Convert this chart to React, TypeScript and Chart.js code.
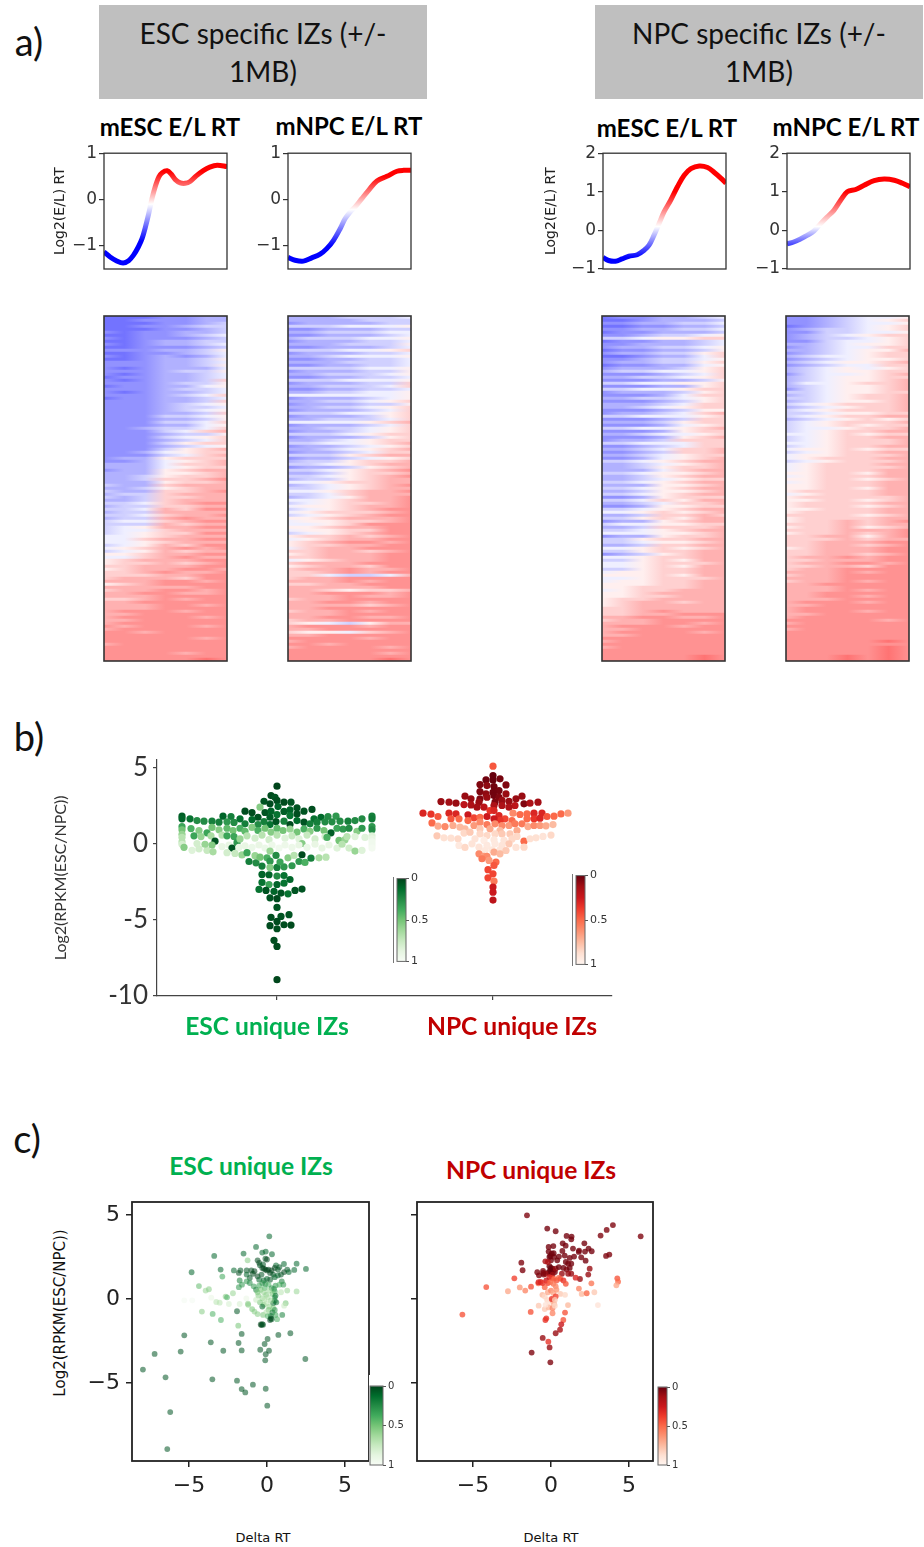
import React, { useEffect, useRef } from "react";
import { Chart, registerables } from "chart.js";

const framePlugin = {
  id: "frame",
  afterDatasetsDraw(chart: any, _a: any, o: any) {
    if (!o || !o.width) return;
    const { ctx, chartArea: a } = chart;
    ctx.save();
    ctx.strokeStyle = o.color || "#333";
    ctx.lineWidth = o.width;
    ctx.strokeRect(a.left, a.top, a.right - a.left, a.bottom - a.top);
    ctx.restore();
  },
};
Chart.register(...registerables, framePlugin);

// ---- a) mean replication-timing profiles ----
const rtEscInEscX = [0, 5, 10, 15.5, 20, 24, 28, 31, 33.7, 36.4, 39, 42, 44.6, 47.3, 51.4, 54.6, 58, 62, 66, 70, 75, 81, 86, 92, 100];
const rtEscInEscY = [-1.13, -1.24, -1.32, -1.37, -1.32, -1.2, -1.02, -0.84, -0.59, -0.3, 0.02, 0.31, 0.49, 0.58, 0.62, 0.55, 0.43, 0.36, 0.35, 0.39, 0.51, 0.63, 0.7, 0.74, 0.71];
const rtEscInNpcX = [0, 5.7, 12.5, 19.3, 26.1, 31.5, 37, 42.4, 46.5, 50.5, 54.6, 60, 65.5, 72.3, 80.4, 88.6, 94, 100];
const rtEscInNpcY = [-1.25, -1.31, -1.33, -1.26, -1.18, -1.06, -0.88, -0.63, -0.41, -0.27, -0.16, 0.02, 0.2, 0.4, 0.5, 0.61, 0.63, 0.63];
const rtNpcInEscX = [0, 4.6, 10, 15.5, 21, 27.8, 33.2, 37.3, 41.4, 45.5, 49.6, 55, 60.5, 66, 71.5, 78.3, 85, 90.5, 96, 100];
const rtNpcInEscY = [-0.7, -0.78, -0.8, -0.74, -0.67, -0.63, -0.52, -0.39, -0.13, 0.17, 0.48, 0.78, 1.13, 1.43, 1.6, 1.67, 1.63, 1.5, 1.35, 1.22];
const rtNpcInNpcX = [0, 5.4, 10.9, 16.3, 21.8, 27.2, 32.7, 38.1, 43.6, 49, 55.9, 62.7, 70.8, 79, 87.2, 94, 100];
const rtNpcInNpcY = [-0.35, -0.3, -0.22, -0.13, -0.02, 0.17, 0.35, 0.52, 0.78, 1.0, 1.06, 1.17, 1.29, 1.33, 1.3, 1.22, 1.13];
const rtTicksEsc = [-1, 0, 1];
const rtTicksNpc = [-1, 0, 1, 2];

// ---- a) heat maps: each row one text line, each digit a level 0 (deep blue) .. 9 (deep red) ----
const heatEscInEsc = [
"0001122","0011122","0001123","0011233","0001123","1011223","0011234","1011123","0012233","1012234","0011123","1112235","0011234","1012124","0012235",
"1112234","1112235","1012224","1112335","1012234","0112234","1012236","1112335","0112245","1112334","1012234","1112346","0112234","1112236","1112345",
"1112334","1112345","1112236","1113345","1112235","1113346","1112245","1123346","1113467","1112335","1113456","1112346","1113566","1112345","1113567",
"1124566","1113467","1225666","1124567","2224667","2224566","1225677","2225567","2235667","2236678","2225667","3226777","2235677","3226678","2336777",
"3236677","2236777","3346788","2336677","3347688","2337777","3346778","2337877","3446788","3337677","3457788","3446777","3456688","4456777","4467788",
"4456777","3457688","4567878","3457677","5567788","4467877","5677788","5667678","6677788","5677887","6678778","6667788","6777688","7778878","5678888",
"7777788","6778878","7788778","7778888","6678788","7788888","7778878","7778888","7888788","7788888","7888878","7788888","7888888","8788878","7888888",
"8878888","8888888","8888878","8888888","7888888","8888888","8888888","8888788","8888888","8888898",
];
const heatEscInNpc = [
"2223334","2222333","1222233","3334445","1122233","2233344","1122234","2333445","1222334","2223335","1122234","3334456","1222334","2234445","1122334",
"2223334","1122334","3333445","1222335","2233345","1122334","3334445","1222336","2233346","1122334","2233445","4444445","1222345","2233456","1222335",
"2233456","1222346","3334456","1222356","2233346","4444567","1222346","2233456","1223456","3334566","1222356","2234566","3344567","1223456","2234567",
"1223466","3335677","1223456","2335667","3345677","1223567","3345678","2235667","3345678","2335677","4456677","2345678","3345677","4456778","3346777",
"2345778","4456778","3456678","4556778","3456788","4566678","3456788","5567778","4556678","4456888","5567788","4556688","3456788","5667678","4567788",
"5678878","5667788","4677888","6677678","5677788","6677788","4567788","6777888","5677688","6778778","6678788","6643347","6778888","7778788","6677888",
"7777788","7765667","7788878","7778778","6778888","7788788","7777678","7788888","6778788","7778888","7788778","6778888","6543577","7888788","7788888",
"6554678","7788888","8888788","7888888","8878888","7888878","8888888","8888878","8888888","8888898",
];
const heatNpcInEsc = [
"0112234","0012223","1122334","0011223","1122334","0112223","1123345","3345566","0112234","1122234","1223345","0112235","1223356","0012246","1123345",
"1223356","0112245","1222356","2334456","1112346","2233456","1112235","3344556","1112256","3344566","1222356","1112466","2233456","1112356","2223466",
"2234566","1112355","1223467","3344456","1112366","2223566","1112456","3344567","1112566","2234456","1112567","1223666","3344466","1123466","2234667",
"1123667","2234566","1124567","3345677","2234567","2235667","2224677","3345567","2235677","2234566","3345677","2225567","3345677","2235567","3345677",
"1125666","3346577","2234667","1125566","3345677","4456567","2236676","3356577","1225677","3445566","2236667","3345677","4445567","1225667","3356677",
"3345567","2236677","4456567","3356677","1235677","4456677","3356577","4456667","4456577","3356677","4556677","5556577","4456667","4556677","5556677",
"5566677","4566777","5567777","5566777","5667777","5677677","5677777","6677777","6678777","6677888","7788778","6778888","7778878","7888788","7788888",
"7888878","7788888","8888888","7888888","8888888","7888888","8888888","8888888","8888898","8888898",
];
const heatNpcInNpc = [
"1123445","1123456","1123445","0123456","1233456","1133445","1234566","1233456","1134456","2234556","1234466","2234557","1234566","2344566","1234556",
"2345567","1234466","2345456","2345566","1344567","2345566","2345567","2445667","2345567","1345567","3345566","2345667","3345667","2345567","3456667",
"2345667","3456667","3345566","3456677","2345656","3456667","3456566","3445667","3456677","4456566","3456677","3456667","4456667","3456677","4556566",
"3456677","4556667","4566677","3456667","4566677","4566667","4566677","5566577","4566677","5566567","4566677","5566677","5566577","5666677","4566677",
"5666667","5566567","5666677","5666567","5566677","5666677","6666567","5666677","5667678","6667677","5667567","6667778","5667678","6677578","6667677",
"6677788","6677678","5677788","6677788","6677678","6778788","6677788","6778878","6677688","6778888","7778788","6778888","7778888","6778788","7788888",
"7778888","7778788","7788888","7788788","7778888","7888788","7788888","7888888","7888788","7788888","7888888","8888878","7888888","8888888","7888888",
"8888888","8888888","8888888","8888898","8888888","8888898","8888898","8888898","8889898","8889898",
];

// ---- b) swarm points: [offset from category centre, log2 ratio, colour value] ----
const swarmEsc = [
[0,3.76,0],[-6,3.14,.02],[-2,3.03,.05],[-13,2.77,.05],[-7,2.6,.02],[0,2.82,.03],[7,2.71,.02],[14,2.71,.05],[1,2.42,.1],[20,2.34,.05],[-17,2.38,.55],[-32,2.12,.03],[-25,2.03,.03],[-12,2.03,.05],[-6,2.12,.1],[7,2.1,.08],[13,2.2,.1],[27,2.12,.05],[35,2.23,.03],[20,1.94,.03],[0,1.9,.15],[13,1.83,.15],[-7,1.72,.08],[-19,1.72,.05],
[-95,1.79,.08],[-95,1.62,.1],[-87,1.62,.15],[-80,1.5,.25],[-73,1.46,.25],[-65,1.46,.2],[-58,1.4,.2],[-54,1.79,.1],[-46,1.77,.2],[-50,1.42,.3],[-43,1.38,.25],[-37,1.62,.15],[-32,1.29,.2],[-25,1.57,.12],[-13,1.44,.2],[-19,1.24,.25],[-7,1.24,.15],[-1,1.44,.05],[7,1.46,.2],[13,1.24,.02],[20,1.5,.12],[27,1.4,.05],[37,1.62,.15],[33,1.29,.2],[44,1.72,.12],[51,1.77,.25],[48,1.42,.25],[55,1.42,.25],[59,1.79,.3],[63,1.46,.25],[71,1.46,.2],[78,1.5,.25],[85,1.62,.25],[95,1.79,.2],[95,1.62,.18],[40,1.4,.2],
[-95,1.1,.35],[-95,.9,.5],[-86,.98,.4],[-78,.85,.55],[-70,.7,.35],[-65,1.05,.5],[-58,.9,.55],[-50,1,.45],[-44,.85,.5],[-37,1,.4],[-32,.8,.45],[-25,1.05,.55],[-19,.85,.4],[-12,1,.5],[-6,.75,.55],[0,1,.45],[6,.85,.5],[13,.95,.6],[20,.75,.5],[27,.95,.4],[33,.8,.55],[40,1,.3],[47,.85,.5],[54,.7,.08],[60,1,.35],[66,.95,.3],[72,1,.25],[80,.8,.55],[85,1,.3],[95,1.1,.3],[95,.9,.25],
[-95,.6,.6],[-95,.4,.7],[-83,.5,.35],[-76,.45,.6],[-66,.5,.65],[-62,.15,.05],[-55,.55,.7],[-50,.5,.35],[-43,.45,.35],[-40,.05,.3],[-37,.3,.6],[-30,.5,.7],[-22,.35,.8],[-15,.55,.7],[-8,.25,.8],[0,.55,.7],[8,.35,.85],[15,.5,.75],[22,.3,.85],[25,0,.55],[30,.55,.75],[38,.3,.8],[48,.45,.8],[50,.4,.4],[62,.2,.5],[68,.25,.6],[70,.45,.7],[78,.45,.85],[88,.4,.85],[95,.5,.85],[95,.3,.9],
[-95,.1,.7],[-95,-.05,.8],[-93,-.25,.55],[-85,-.45,.85],[-78,-.35,.8],[-70,-.45,.75],[-64,-.55,.65],[-80,0,.8],[-72,-.05,.6],[-65,-.1,.55],[-55,-.2,.9],[-48,-.1,.9],[-45,-.3,.05],[-38,-.25,.9],[-32,-.15,.9],[-25,-.25,.92],[-18,-.1,.9],[-12,-.3,.92],[-5,-.1,.93],[2,-.3,.95],[8,-.1,.93],[15,-.25,.93],[22,-.1,.9],[30,-.25,.92],[38,-.05,.9],[45,-.3,.88],[52,-.1,.9],[60,-.3,.85],[65,-.05,.7],[72,-.3,.8],[78,-.5,.6],[85,-.45,.85],[95,.1,.95],[95,-.1,.95],[95,-.3,.97],
[-50,-.6,.8],[-42,-.65,.75],[-35,-.75,.6],[-30,-.6,.35],[-22,-.8,.6],[-28,-1.18,.2],[-21,-1.27,.25],[-17,-.9,.5],[-10,-.94,.4],[-7,-.5,.6],[-1,-.78,.25],[-7,-1.16,.3],[-15,-1.48,.2],[-7,-1.57,.55],[0,-1.57,.2],[7,-1.53,.3],[15,-1.46,.3],[11,-.94,.55],[3,-1.22,.35],[17,-.78,.7],[25,-.74,.02],[22,-1.18,.3],[28,-1.24,.4],[34,-.96,.2],[42,-.94,.65],[49,-.9,.7],
[-15,-2.03,.1],[-8,-2.05,.1],[0,-2.14,.25],[7,-2.1,.15],[13,-2.36,.1],[-15,-2.55,.15],[-8,-2.69,.35],[0,-2.69,.1],[7,-2.6,.15],[-18,-3.01,.15],[-11,-3.08,.05],[-3,-3.14,.1],[4,-3.25,.05],[11,-3.3,.15],[18,-3.08,.05],[25,-2.99,.05],[-7,-3.56,.05],[0,-3.62,.02],[0,-4.19,.05],[-6,-4.85,.03],[4,-4.78,.05],[12,-4.67,.05],[0,-5.11,.02],[-7,-5.39,.02],[0,-5.59,.03],[7,-5.33,.03],[14,-5.35,.02],[-3,-6.35,.03],[0,-6.75,.02],[0,-8.93,.01],
];
const swarmNpc = [
[0,5.07,.45],[0,4.45,0],[0,4.17,0],[-7,4.17,.02],[7,4.24,.03],[-13,3.86,.05],[-6,3.8,.08],[13,3.84,.05],[1,3.73,.02],[6,3.47,.03],[-13,3.41,.05],[0,3.36,.02],[-7,3.25,.08],[13,3.25,.1],[1,3.14,.02],[-28,3.1,.1],[-22,2.93,.1],[-13,2.93,.05],[-6,3.03,.1],[6,3.03,.05],[29,3.1,.1],[23,2.93,.1],[-52,2.75,.1],[-44,2.71,.12],[-37,2.64,.1],[-29,2.55,.2],[-22,2.53,.15],[-14,2.71,.1],[2,2.71,.05],[9,2.82,.1],[16,2.77,.1],[31,2.6,.05],[37,2.64,.15],[45,2.71,.12],[-16,2.38,.12],[-9,2.38,.2],[1,2.49,.15],[9,2.49,.15],[22,2.49,.2],[16,2.38,.15],[-3,2.16,.35],
[-70,1.99,.3],[-62,1.92,.35],[-55,1.77,.45],[-44,1.99,.3],[-37,1.94,.3],[-25,1.88,.25],[-19,1.68,.4],[-6,1.77,.25],[1,2.16,.3],[6,1.83,.3],[20,1.99,.6],[27,1.9,.5],[34,1.94,.5],[41,1.99,.3],[49,2,.3],[54,1.77,.45],[61,1.79,.5],[68,1.94,.5],[75,1.99,.65],[-42,1.62,.45],[-34,1.62,.5],[-13,1.72,.5],[12,1.62,.4],[7,1.51,.35],[34,1.62,.5],[41,1.62,.35],[47,1.66,.3],[19,1.5,.5],[1,1.62,.25],
[-61,1.35,.5],[-55,1.14,.7],[-48,1.11,.6],[-40,1.18,.7],[-33,1.07,.75],[-25,1.5,.5],[-19,1.18,.65],[-13,1.4,.6],[-6,1.24,.55],[2,1.29,.6],[9,1.18,.6],[16,1.18,.65],[22,1.29,.55],[29,1.29,.55],[35,1.11,.7],[41,1.18,.6],[47,1.18,.65],[53,1.16,.7],[60,1.24,.75],[-28,.96,.75],[-13,.96,.8],[-3,.96,.7],[7,.85,.75],[24,.85,.7],
[-56,.5,.8],[-49,.37,.88],[-42,.35,.88],[-35,.31,.85],[-29,.68,.85],[-23,.74,.8],[-13,.63,.85],[-6,.52,.85],[2,.63,.85],[9,.63,.8],[17,.63,.8],[24,.46,.85],[31,.15,.5],[37,.31,.88],[43,.37,.88],[50,.46,.9],[58,.55,.85],[-18,.31,.9],[-9,.2,.95],[1,.24,.92],[11,.2,.9],[19,.3,.85],
[-34,-.13,.93],[-28,-.26,.85],[-21,-.02,.9],[-14,-.24,.9],[-6,-.13,.93],[2,-.02,.93],[9,-.13,.9],[16,-.02,.8],[23,-.26,.9],[31,-.24,.85],[-1,-.41,.92],[-8,-.46,.92],[7,-.41,.9],[13,-.46,.8],
[-14,-.68,.6],[-9,-.85,.65],[-6,-.85,.6],[1,-.57,.7],[7,-.68,.75],[-11,-1,.55],[-4,-1.11,.65],[3,-1.22,.5],[1,-1.44,.45],[-5,-1.72,.4],[0,-1.99,.4],[-5,-2.25,.4],[1,-2.47,.55],[0,-2.86,.25],[0,-3.19,.25],[0,-3.71,.2],
];

// ---- c) scatter points: [delta RT, log2 ratio, colour value] ----
const scatterEsc = [
[.15,3.73,.1],[-.7,3.1,.1],[-1.5,2.7,.1],[-.3,2.76,.1],[-.08,2.82,.1],[.32,2.66,.1],[-3.38,2.56,.1],[-4.83,1.59,.1],[-2.97,1.75,.1],[-2.12,1.7,.1],[1.9,2.1,.1],[2.5,1.79,.1],[1.75,1.73,.1],[1.09,2.08,.1],[.58,2,.1],[-1.24,2.3,.55],
[-5.3,-2.16,.05],[-7.2,-3.27,.05],[-5.53,-3.13,.05],[-7.95,-4.2,.05],[-6.5,-4.66,.05],[-6.2,-6.73,.05],[-6.39,-8.93,.05],[-3.6,-2.58,.05],[-2.8,-3.08,.05],[-1.62,-2.08,.05],[-1.82,-2.62,.05],[-1.62,-3.06,.05],[.73,-2.14,.05],[1.5,-2.04,.05],[.04,-2.38,.05],[-.15,-2.68,.05],[-.43,-3.02,.05],[.13,-3.08,.05],[-.08,-3.29,.05],[-.11,-3.65,.05],[2.46,-3.57,.05],[-3.5,-4.78,.05],[-1.92,-4.86,.05],[-1.62,-5.36,.05],[-1.39,-5.56,.05],[-.9,-5.1,.05],[-.08,-5.34,.05],[.02,-6.35,.05],
[-1.84,-1.59,.5],[-1.92,-.73,.05],[-2.95,-1.25,.4],[-3.48,-.89,.4],[-4.17,-.75,.55],[-4.36,.77,.45],[-3.93,.5,.6],[-3.72,.58,.55],[-2.86,1.33,.35],[-5.3,-.08,.97],[-4.79,-.08,.97],[-3.57,.08,.9],[-3.25,-.18,.7],[-3.03,-.22,.7],[-2.65,.14,.55],[-2.56,.1,.4],[-2.18,.34,.6],[-2.44,-.3,.8],[-1.75,-.3,.8],[-1.22,-.28,.55],[-1.32,.04,.9],
[-.6,2.3,.02],[-.5,2.15,0],[-.45,2,.05],[-.25,2.05,.05],[-.1,2.4,.05],[0,2.35,0],[-.3,1.85,0],[-.2,1.8,0],[-.1,1.75,0],[0,1.7,0],[.1,1.75,0],[.2,1.55,0],[.3,1.7,0],[.4,1.45,.05],[.5,1.85,0],[.7,1.75,.05],[.8,1.9,.05],[1.1,1.6,0],[1.3,1.75,.05],[1.4,1.6,.1],[-.8,1.65,0],[-.9,1.5,.02],[-1.1,1.25,.05],[-1.3,1.7,.05],[-1.8,1.55,.02],[-1.7,1.7,.05],[-1.3,1.45,.1],[-1,1.7,.02],[-.6,1.35,0],[-.5,1.15,.1],[-.35,1.45,.05],[-.2,1.1,.1],[0,1.2,.1],[.2,1.15,.05],[.5,1.3,.1],[.7,1.4,.1],[.95,1.05,.2],[.9,1.45,.05],
[-1.75,1.1,.2],[-1.6,.85,.3],[-1.3,1.05,.3],[-1.1,.95,.25],[-.85,.75,.3],[-.7,.55,.2],[-.5,.8,.35],[-.3,.95,.3],[-.1,.9,.25],[.1,.85,.4],[.3,.65,.3],[.45,.6,.25],[.55,.8,.3],[.8,.85,.4],[1.05,.85,.3],[-1.8,.7,.3],[-.6,.4,.5],[-.15,.65,.4],[.5,.45,.35],
[-.4,.55,.5],[-.2,.4,.6],[-.05,.25,.55],[.15,.5,.6],[.35,.3,.5],[.5,.1,.3],[.55,.2,.15],[.5,-.1,.2],[.6,-.2,.15],[.4,-.25,.1],[1.3,.5,.6],[1.9,.45,.6],[.9,.4,.7],[-.55,.2,.55],[-.3,.05,.6],[-.15,-.05,.7],[.05,.1,.65],[.25,-.1,.6],[-.45,-.2,.5],[-.7,-.05,.75],[-.2,-.35,.5],[-.05,-.25,.7],[.15,-.45,.6],[.4,-.55,.5],[.5,-.65,.3],[-.3,-.45,.1],[1.2,-.25,.5],[1.1,-.4,.75],[.1,-.65,.5],[.35,-.8,.2],[-1.2,-.35,.55],[-.95,-.6,.5],[-.8,-.75,.55],[-.6,-.9,.55],[-.25,-.95,.5],[-.05,-.8,.7],[.25,-1,.15],[.05,-1.02,.4],[.55,-.95,.35],[.98,-.95,.2],[.65,-1.2,.4],[.25,-1.15,0],[.2,-1.25,0],[.3,-1.2,.05],
[-.4,-1.52,0],[-.35,-1.55,0],[-.3,-1.5,.02],[-.25,-1.53,.05],
];
const scatterNpc = [
[-1.54,4.98,.05],[-.24,4.19,.03],[.3,4.03,.03],[1,3.75,.03],[1.32,3.71,.03],[1.3,3.55,.03],[3.18,3.77,.05],[3.57,4.11,.05],[3.97,4.4,.05],[5.75,3.73,.05],[2.14,3.31,.03],[.75,3.31,.03],[.94,3.17,.03],[-.15,3.1,.03],[.15,3.15,.03],[1.41,3,.03],[1.8,2.88,.03],[1.78,2.8,.03],[2.18,2.82,.03],[2.41,3,.03],[2.61,2.84,.03],[3.53,2.56,.05],[3.74,2.64,.05],[1.94,2.48,.03],[2.22,2.28,.03],[.73,2.86,.03],[-.15,2.82,.03],[.17,2.72,.03],[.51,2.52,.03],[.88,2.58,.03],[1.2,2.44,.03],[1.48,2.52,.03],[-.04,2.56,.03],[-.36,2.24,.15],[-1.9,2.16,.05],[-1.82,1.71,.05],[-2.35,1.23,.4],[-.88,1.59,.05],[-.77,1.41,.05],[-.51,1.67,.05],[-.47,1.45,.05],[-.81,.93,.5],[-.66,1.01,.3],[-1.28,.73,.45],[-4.15,.71,.45],[-2.76,.46,.7],[-2,.69,.65],[-1.65,.5,.6],[-5.68,-.93,.45],[4.25,1.23,.45],[4.3,1.03,.5],[4.19,.81,.7],[2.48,1.8,.1],[2.39,1.45,.1],[1.86,1.19,.1],[1.58,1.27,.3],[2.59,.93,.55],[1.79,.62,.6],[1.97,.3,.75],[2.29,.34,.5],[2.78,.4,.8],[3.01,-.36,.9],[1.09,-.36,.75],[-.79,-.4,.8],[-1.3,-.77,.45],[.9,-.81,.45],[-.3,-1.15,.35],[-.36,-1.25,.35],[.79,-1.25,.45],[.66,-1.51,.25],[.58,-1.83,.15],[.3,-2.04,.1],[-.53,-2.32,.1],[-.17,-2.54,.35],[-.09,-2.88,.1],[-1.24,-3.19,.05],[-.04,-3.77,.05],
[-.1,1.95,0],[0,1.85,0],[.1,1.8,0],[.15,1.7,0],[-.05,1.7,0],[.05,1.55,.02],[-.15,1.6,0],[.25,1.6,.03],[-.1,1.5,.02],[.1,1.45,.1],[.3,1.8,.1],[.5,1.9,.02],[.8,1.85,.02],[1,1.75,.05],[1.2,1.85,.02],[1.1,2.1,.05],[1.3,2.1,.03],[.95,2.2,.02],[.2,2.5,.03],[.4,2.3,.02],[0,2.3,.03],[-.1,2.5,.01],[.05,2.7,.02],[-.2,2.2,.15],[1.1,1.5,.1],[1.3,1.5,.1],[.7,1.5,.1],[-.35,1.5,.1],[-.5,1.55,.05],
[-.1,1.3,.3],[.05,1.25,.35],[.2,1.2,.5],[.35,1.1,.45],[.5,1.25,.5],[-.3,1.1,.25],[-.2,.95,.4],[-.05,1,.5],[.15,.9,.55],[.3,.75,.6],[.6,1.2,.45],[.8,1.1,.35],[.95,.9,.45],[-.4,.7,.5],[-.55,.95,.35],[-.8,1,.3],
[-.55,.25,.75],[-.4,.15,.85],[-.2,.4,.7],[0,.5,.6],[.15,.35,.7],[.35,.55,.65],[.6,.3,.8],[.9,.25,.85],[-.25,-.05,.85],[-.1,-.25,.9],[.1,-.1,.75],[.2,-.3,.7],[.05,0,.35],[.3,.15,.4],[.25,-.05,.8],[-.4,-.6,.8],[-.15,-.5,.75],[.1,-.55,.6],[.25,-.4,.85],[.1,-.85,.6],[-.35,-.35,.9],
];
const swarmTicks = [-10, -5, 0, 5];
const scatterTicks = [-5, 0, 5];
const barTicks = [0, 0.5, 1];

const greens = ["#00441b", "#006d2c", "#238b45", "#41ab5d", "#74c476", "#a1d99b", "#c7e9c0", "#e5f5e0", "#f7fcf5"];
const reds = ["#67000d", "#a50f15", "#cb181d", "#ef3b2c", "#fb6a4a", "#fc9272", "#fcbba1", "#fee0d2", "#fff5f0"];

function ramp(list: string[], p: number, alpha = 1) {
  const f = Math.min(0.9999, Math.max(0, p)) * (list.length - 1);
  const i = Math.floor(f), k = f - i;
  const h = (s: string, o: number) => parseInt(s.slice(o, o + 2), 16);
  const ch = (o: number) => Math.round(h(list[i], o) * (1 - k) + h(list[i + 1], o) * k);
  return `rgba(${ch(1)},${ch(3)},${ch(5)},${alpha})`;
}
function cellColor(ch: string) {
  const t = (Number(ch) - 4.5) / 4.5;
  if (t < 0) { const c = Math.round(255 * (1 + 0.55 * t)); return `rgb(${c},${c},255)`; }
  const c = Math.round(255 * (1 - 0.55 * t));
  return `rgb(255,${c},${c})`;
}

const DV = "'DejaVu Sans'";
const LA = "Lato";
const base = (frame?: any) => ({
  responsive: false,
  animation: false as const,
  events: [] as any[],
  plugins: { legend: { display: false }, tooltip: { enabled: false }, frame: frame || {} },
});
const minus = (v: any) => String(v).replace("-", "\u2212");
const gridTicks = (len: number, color = "#222", lineWidth = 1.2) => ({ drawOnChartArea: false, drawTicks: true, tickLength: len, color, lineWidth });

function lineConfig(xs: number[], ys: number[], min: number, max: number, ticks: number[], stops: number[], title: any) {
  return {
    type: "line",
    data: {
      datasets: [{
        data: xs.map((x, i) => ({ x, y: ys[i] })),
        borderWidth: 5,
        pointRadius: 0,
        tension: 0.35,
        fill: false,
        borderColor: (c: any) => {
          const ch = c.chart;
          if (!ch.chartArea || !ch.scales.y) return "#f00";
          const y = ch.scales.y;
          const g = ch.ctx.createLinearGradient(0, y.getPixelForValue(stops[0]), 0, y.getPixelForValue(stops[2]));
          g.addColorStop(0, "#0000ff");
          g.addColorStop((stops[1] - stops[0]) / (stops[2] - stops[0]), "#ffffff");
          g.addColorStop(1, "#ff0000");
          return g;
        },
      }],
    },
    options: {
      ...base({ width: 1.3, color: "#333" }),
      layout: { padding: { top: 12, right: 4, bottom: 14, left: 0 } },
      scales: {
        x: { type: "linear", display: false, min: 0, max: 100 },
        y: {
          min, max,
          afterBuildTicks: (s: any) => { s.ticks = ticks.map((value) => ({ value })); },
          afterFit: (s: any) => { s.width = 60; },
          ticks: { font: { family: DV, size: 17 }, color: "#333", padding: 2, callback: minus },
          grid: gridTicks(5, "#333"),
          border: { display: false },
          title,
        },
      },
    },
  };
}

function heatConfig(rows: string[]) {
  return {
    type: "bar",
    data: {
      labels: rows.map((_, i) => i),
      datasets: [{
        data: rows.map(() => 1),
        barPercentage: 1,
        categoryPercentage: 1,
        borderWidth: 0,
        backgroundColor: (c: any) => {
          const ch = c.chart;
          const a = ch.chartArea;
          const row = rows[c.dataIndex];
          if (!a || !row) return "#fff";
          const g = ch.ctx.createLinearGradient(a.left, 0, a.right, 0);
          for (let i = 0; i < row.length; i++) g.addColorStop(i / (row.length - 1), cellColor(row[i]));
          return g;
        },
      }],
    },
    options: {
      ...base({ width: 1.6, color: "#333" }),
      indexAxis: "y",
      layout: { padding: 2 },
      scales: {
        x: { type: "linear", display: false, min: 0, max: 1 },
        y: { type: "category", display: false },
      },
    },
  };
}

function swarmConfig() {
  const ds = (pts: number[][], pos: number, map: string[]) => ({
    data: pts.map((p) => ({ x: pos + p[0] / 216, y: p[1] })),
    backgroundColor: pts.map((p) => ramp(map, p[2])),
    borderWidth: 0,
    pointRadius: 3.6,
  });
  return {
    type: "scatter",
    data: { datasets: [ds(swarmEsc, 0, greens), ds(swarmNpc, 1, reds)] },
    options: {
      ...base(),
      layout: { padding: { top: 20, right: 10, bottom: 14, left: 0 } },
      scales: {
        x: {
          type: "linear", min: -0.5556, max: 1.551,
          afterBuildTicks: (s: any) => { s.ticks = [{ value: 0 }, { value: 1 }]; },
          afterFit: (s: any) => { s.height = 9; },
          ticks: { display: false },
          grid: gridTicks(4, "#444"),
          border: { display: true, color: "#444", width: 1.2 },
        },
        y: {
          min: -10, max: 5.5,
          afterBuildTicks: (s: any) => { s.ticks = swarmTicks.map((value) => ({ value })); },
          afterFit: (s: any) => { s.width = 107; },
          ticks: { font: { family: LA, size: 26 }, color: "#333", padding: 5 },
          grid: gridTicks(4, "#444"),
          border: { display: true, color: "#444", width: 1.2 },
          title: { display: true, text: "Log2(RPKM(ESC/NPC))", font: { family: LA, size: 16 }, color: "#333", padding: { top: 1, bottom: 0 } },
        },
      },
    },
  };
}

function scatterConfig(pts: number[][], map: string[], alpha: number, min: number, max: number, showY: boolean) {
  return {
    type: "scatter",
    data: {
      datasets: [{
        data: pts.map((p) => ({ x: p[0], y: p[1] })),
        backgroundColor: pts.map((p) => ramp(map, p[2], alpha)),
        borderWidth: 0,
        pointRadius: 2.9,
      }],
    },
    options: {
      ...base({ width: 1.8, color: "#222" }),
      layout: { padding: { top: 22, right: 4, bottom: 0, left: 0 } },
      scales: {
        x: {
          type: "linear", min, max,
          afterBuildTicks: (s: any) => { s.ticks = scatterTicks.map((value) => ({ value })); },
          afterFit: (s: any) => { s.height = 40; },
          ticks: { font: { family: DV, size: 22 }, color: "#222", padding: 6, callback: minus, maxRotation: 0 },
          grid: gridTicks(6, "#222", 1.5),
          border: { display: false },
        },
        y: {
          min: -9.64, max: 5.77,
          afterBuildTicks: (s: any) => { s.ticks = scatterTicks.map((value) => ({ value })); },
          afterFit: (s: any) => { s.width = 60; },
          ticks: { display: showY, font: { family: DV, size: 22 }, color: "#222", padding: 6, callback: minus },
          grid: gridTicks(6, "#222", 1.5),
          border: { display: false },
        },
      },
    },
  };
}

function barConfig(map: string[], fontSize: number, padTop = 7) {
  return {
    type: "bar",
    data: {
      labels: ["p"],
      datasets: [{
        data: [[0, 1]],
        barPercentage: 1,
        categoryPercentage: 1,
        borderWidth: 0,
        backgroundColor: (c: any) => {
          const ch = c.chart;
          if (!ch.chartArea) return "#fff";
          const g = ch.ctx.createLinearGradient(0, ch.chartArea.top, 0, ch.chartArea.bottom);
          map.forEach((col, i) => g.addColorStop(i / (map.length - 1), col));
          return g;
        },
      }],
    },
    options: {
      ...base({ width: 1, color: "#666" }),
      layout: { padding: { top: padTop, bottom: 7, left: 1, right: 0 } },
      scales: {
        x: { type: "category", display: false },
        y: {
          position: "right", reverse: true, min: 0, max: 1,
          afterBuildTicks: (s: any) => { s.ticks = barTicks.map((value) => ({ value })); },
          afterFit: (s: any) => { s.width = 26; },
          ticks: { font: { family: DV, size: fontSize }, color: "#333", padding: 2, callback: (v: any) => String(v) },
          grid: gridTicks(3, "#555", 1),
          border: { display: false },
        },
      },
    },
  };
}

function Plot({ left, top, width, height, config, bg, blur }: any) {
  const ref = useRef<HTMLCanvasElement | null>(null);
  useEffect(() => {
    const chart = new Chart(ref.current as any, config());
    return () => chart.destroy();
  }, []);
  return (
    <canvas
      ref={ref}
      width={width}
      height={height}
      style={{ position: "absolute", left, top, width, height, background: bg, filter: blur ? `blur(${blur}px)` : undefined }}
    />
  );
}

function Txt({ x, y, text, size, family = LA, weight = 400, color = "#111", rotate = 0 }: any) {
  return (
    <span
      style={{
        position: "absolute", left: x, top: y, whiteSpace: "nowrap", fontFamily: family, fontSize: size, fontWeight: weight, color,
        lineHeight: 1, transform: `translate(-50%,-50%) rotate(${rotate}deg)`,
      }}
    >
      {text}
    </span>
  );
}

const titleA1 = { display: true, text: "Log2(E/L) RT", font: { family: DV, size: 14 }, color: "#222", padding: { top: 8, bottom: 0 } };
const titleA3 = { display: true, text: "Log2(E/L) RT", font: { family: DV, size: 14 }, color: "#222", padding: { top: 0, bottom: 0 } };
const GREEN = "#00b050";
const RED = "#c00000";

export default function App() {
  const box = (left: number, l1: string, l2: string) => (
    <>
      <div style={{ position: "absolute", left, top: 5, width: 328, height: 94, background: "#bfbfbf" }} />
      <Txt x={left + 164} y={33} text={l1} size={28} />
      <Txt x={left + 164} y={71} text={l2} size={28} />
    </>
  );
  const lineAt = (frameL: number, cfg: () => any) => <Plot left={frameL - 60} top={141} width={123 + 64} height={142} config={cfg} />;
  const heatAt = (frameL: number, rows: string[]) => <Plot left={frameL - 2} top={314} width={127} height={349} config={() => heatConfig(rows)} blur={0.5} />;
  return (
    <div style={{ position: "absolute", left: 0, top: 0, width: 924, height: 1547, overflow: "hidden", background: "#fff" }}>
      <Txt x={29} y={41} text="a)" size={38} />
      <Txt x={29} y={736} text="b)" size={38} />
      <Txt x={27} y={1138} text="c)" size={38} />
      {box(99, "ESC specific IZs (+/-", "1MB)")}
      {box(595, "NPC specific IZs (+/-", "1MB)")}
      <Txt x={170} y={127} text="mESC E/L RT" size={24} weight={700} color="#000" />
      <Txt x={349} y={126} text="mNPC E/L RT" size={24} weight={700} color="#000" />
      <Txt x={667} y={128} text="mESC E/L RT" size={24} weight={700} color="#000" />
      <Txt x={846} y={127} text="mNPC E/L RT" size={24} weight={700} color="#000" />
      <Plot left={44} top={141} width={187} height={142} config={() => lineConfig(rtEscInEscX, rtEscInEscY, -1.5, 1, rtTicksEsc, [-0.9, -0.1, 0.6], titleA1)} />
      {lineAt(288, () => lineConfig(rtEscInNpcX, rtEscInNpcY, -1.5, 1, rtTicksEsc, [-1, -0.22, 0.5], undefined))}
      {lineAt(603, () => lineConfig(rtNpcInEscX, rtNpcInEscY, -1, 2, rtTicksNpc, [-0.7, 0.1, 1], titleA3))}
      {lineAt(787, () => lineConfig(rtNpcInNpcX, rtNpcInNpcY, -1, 2, rtTicksNpc, [-0.55, 0.1, 1], undefined))}
      {heatAt(104, heatEscInEsc)}
      {heatAt(288, heatEscInNpc)}
      {heatAt(602, heatNpcInEsc)}
      {heatAt(786, heatNpcInNpc)}

      <Plot left={50} top={739} width={572} height={280} config={swarmConfig} blur={0.3} />
      <Plot left={396} top={870} width={36} height={100} config={() => barConfig(greens, 11)} />
      <div style={{ position: "absolute", left: 393, top: 877, width: 1, height: 86, background: "#777" }} />
      <Plot left={575} top={867} width={36} height={106} config={() => barConfig(reds, 11)} />
      <div style={{ position: "absolute", left: 572, top: 874, width: 1, height: 92, background: "#777" }} />
      <Txt x={267} y={1026} text="ESC unique IZs" size={24.6} weight={700} color={GREEN} />
      <Txt x={512} y={1026} text="NPC unique IZs" size={24.6} weight={700} color={RED} />

      <Txt x={251} y={1166} text="ESC unique IZs" size={24.6} weight={700} color={GREEN} />
      <Txt x={531} y={1170} text="NPC unique IZs" size={24.6} weight={700} color={RED} />
      <Plot left={72} top={1180} width={301} height={321} config={() => scatterConfig(scatterEsc, greens, 0.55, -8.65, 6.54, true)} blur={0.3} />
      <Plot left={357} top={1180} width={300} height={321} config={() => scatterConfig(scatterNpc, reds, 0.8, -8.59, 6.54, false)} blur={0.3} />
      <Plot left={369} top={1375} width={40} height={98} config={() => barConfig(greens, 10, 11)} bg="#fff" />
      <Plot left={657} top={1379} width={36} height={94} config={() => barConfig(reds, 10)} />
      <Txt x={60} y={1313} text="Log2(RPKM(ESC/NPC))" size={15} family={DV} rotate={-90} />
      <Txt x={263} y={1537} text="Delta RT" size={13} family={DV} />
      <Txt x={551} y={1537} text="Delta RT" size={13} family={DV} />
    </div>
  );
}
